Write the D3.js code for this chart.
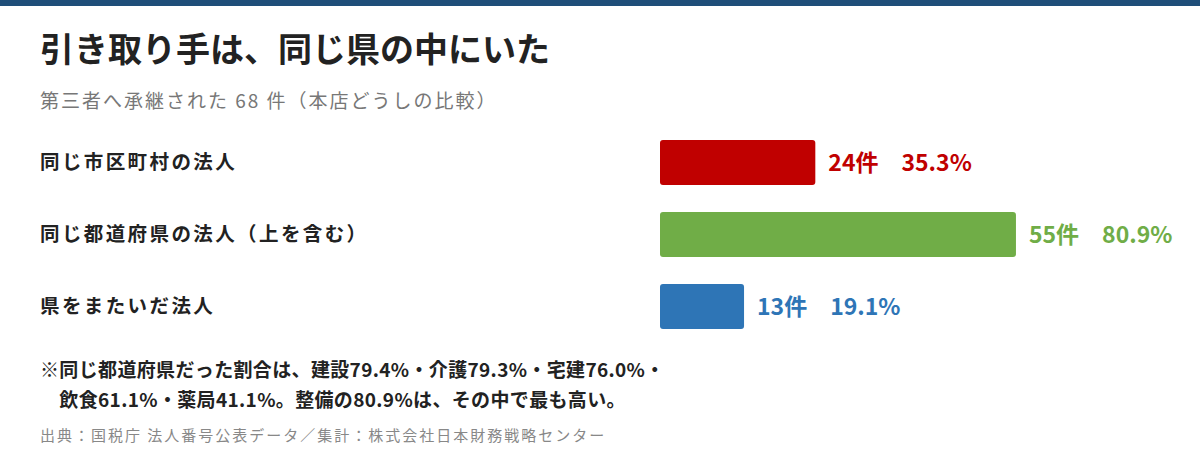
<html>
<head>
<meta charset="utf-8">
<script src="https://d3js.org/d3.v7.min.js"></script>
<style>
    body { margin: 0; background: #fff; }
    svg { font-family: "Noto Sans CJK JP", "Noto Sans", sans-serif; }
</style>
</head>
<body>
<svg id="the-chart" width="1200" height="460"></svg>
<script>
    // data
    var categories = ['同じ市区町村の法人', '同じ都道府県の法人（上を含む）', '県をまたいだ法人'];
    var counts = [24, 55, 13];
    var shares = [35.3, 80.9, 19.1];
    var colors = ['#c00000', '#70ad47', '#2e75b6'];

    var svg = d3.select('#the-chart');

    svg.append('rect')
        .attr('x', 0).attr('y', 0)
        .attr('width', 1200).attr('height', 6)
        .attr('fill', '#1f4e79');

    svg.append('text')
        .attr('x', 40).attr('y', 62)
        .attr('font-size', 34).attr('font-weight', 700)
        .attr('fill', '#222')
        .text('引き取り手は、同じ県の中にいた');

    svg.append('text')
        .attr('x', 40).attr('y', 108)
        .attr('font-size', 19)
        .attr('letter-spacing', 2)
        .attr('fill', '#777')
        .text('第三者へ承継された 68 件（本店どうしの比較）');

    var x = d3.scaleLinear().domain([0, 100]).range([660, 1100]);
    var y = d3.scaleBand().domain(categories).range([126.5, 342.5]).paddingInner(0.375).paddingOuter(0.1875);

    var rows = svg.selectAll('g.row')
        .data(categories)
        .enter().append('g')
        .attr('class', 'row');

    rows.append('text')
        .attr('x', 40)
        .attr('y', function(d) { return y(d) + y.bandwidth() / 2; })
        .attr('dy', '0.33em')
        .attr('font-size', 19.5).attr('font-weight', 700)
        .attr('letter-spacing', 2.4)
        .attr('fill', '#222')
        .text(function(d) { return d; });

    rows.append('rect')
        .attr('x', x(0))
        .attr('y', function(d) { return y(d); })
        .attr('width', function(d, i) { return x(shares[i]) - x(0); })
        .attr('height', y.bandwidth())
        .attr('rx', 3)
        .attr('fill', function(d, i) { return colors[i]; });

    rows.append('text')
        .attr('x', function(d, i) { return x(shares[i]) + 13; })
        .attr('y', function(d) { return y(d) + y.bandwidth() / 2; })
        .attr('dy', '0.36em')
        .attr('font-size', 23).attr('font-weight', 700)
        .attr('fill', function(d, i) { return colors[i]; })
        .attr('xml:space', 'preserve')
        .text(function(d, i) { return counts[i] + '件　' + shares[i].toFixed(1) + '%'; });

    var notes = [
        '※同じ都道府県だった割合は、建設79.4%・介護79.3%・宅建76.0%・',
        '　飲食61.1%・薬局41.1%。整備の80.9%は、その中で最も高い。'
    ];
    svg.selectAll('text.note')
        .data(notes)
        .enter().append('text')
        .attr('class', 'note')
        .attr('x', 40)
        .attr('y', function(d, i) { return 377 + i * 30; })
        .attr('font-size', 19).attr('font-weight', 700)
        .attr('letter-spacing', 0.35)
        .attr('fill', '#222')
        .attr('xml:space', 'preserve')
        .text(function(d) { return d; });

    svg.append('text')
        .attr('x', 40).attr('y', 441)
        .attr('font-size', 15)
        .attr('letter-spacing', 2)
        .attr('fill', '#888')
        .text('出典：国税庁 法人番号公表データ／集計：株式会社日本財務戦略センター');
</script>
</body>
</html>
